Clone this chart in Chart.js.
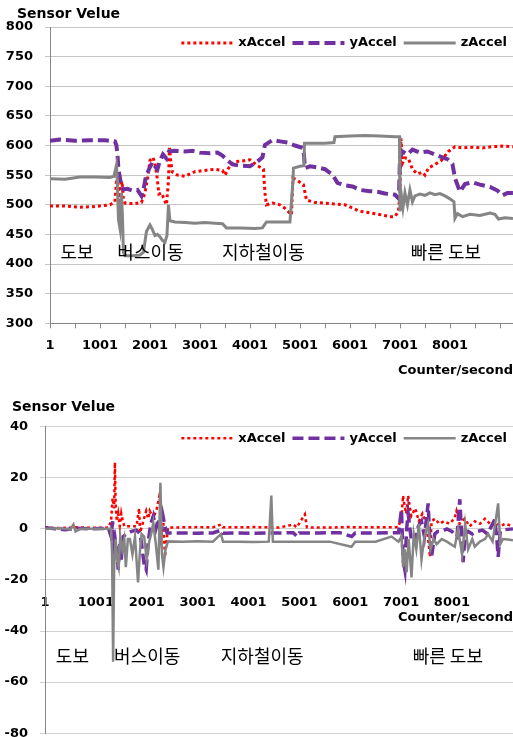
<!DOCTYPE html>
<html>
<head>
<meta charset="utf-8">
<script src="https://cdn.jsdelivr.net/npm/chart.js@4.4.1/dist/chart.umd.min.js"></script>
<style>
html, body { margin: 0; padding: 0; background: #fff; overflow: hidden; }
#wrap { position: relative; width: 513px; height: 737px; overflow: hidden; }
canvas { position: absolute; left: 0; }
</style>
</head>
<body>
<div id="wrap">
  <canvas id="rawChart" width="513" height="382" style="top:0"></canvas>
  <canvas id="diffChart" width="513" height="363" style="top:390px"></canvas>
</div>
<script>
// ---- data: [counter, value] ----
const xAccelRaw = [[1,498],[300,498],[600,496],[900,497],[1200,500],[1300,505],[1330,540],[1350,552],[1370,520],[1390,486],[1410,530],[1440,540],[1470,510],[1500,503],[1600,502],[1700,502],[1830,504],[1900,520],[1960,548],[2000,575],[2060,580],[2100,570],[2140,548],[2180,518],[2230,520],[2280,510],[2330,500],[2370,540],[2390,596],[2420,570],[2450,555],[2550,550],[2700,548],[2900,556],[3100,558],[3300,560],[3450,558],[3500,550],[3600,566],[3700,573],[3850,574],[4000,576],[4150,566],[4270,560],[4300,520],[4330,500],[4450,503],[4600,500],[4700,494],[4830,483],[4860,545],[4930,542],[5070,534],[5130,508],[5300,504],[5600,502],[5900,500],[6200,489],[6500,485],[6800,480],[6900,480],[6970,489],[7000,520],[7020,612],[7050,570],[7100,579],[7170,578],[7250,560],[7350,552],[7450,555],[7500,550],[7570,562],[7700,568],[7830,575],[7970,590],[8100,598],[8250,596],[8450,597],[8650,596],[8850,598],[9050,599],[9260,598]];
const yAccelRaw = [[1,608],[200,610],[500,608],[800,609],[1100,609],[1300,607],[1330,600],[1350,585],[1370,560],[1400,545],[1430,530],[1470,526],[1550,527],[1650,524],[1750,525],[1830,515],[1880,530],[1920,548],[1980,560],[2050,572],[2100,565],[2150,560],[2200,575],[2260,585],[2330,578],[2380,590],[2500,591],[2700,590],[2850,591],[3000,588],[3200,587],[3350,588],[3450,583],[3550,575],[3650,568],[3800,566],[4000,565],[4150,573],[4250,580],[4300,601],[4450,609],[4600,607],[4750,605],[4900,600],[5050,596],[5080,585],[5100,562],[5200,565],[5350,563],[5500,560],[5650,551],[5750,537],[5900,533],[6050,531],[6200,525],[6400,523],[6550,522],[6700,519],[6900,517],[6980,510],[7000,579],[7050,590],[7150,585],[7250,593],[7400,588],[7550,590],[7700,585],[7850,580],[7950,577],[8050,569],[8100,545],[8200,522],[8300,535],[8450,538],[8600,534],[8800,530],[8950,524],[9050,516],[9150,520],[9260,520]];
const zAccelRaw = [[1,544],[300,543],[600,547],[900,547],[1200,546],[1280,548],[1330,567],[1345,545],[1370,475],[1400,460],[1430,520],[1450,480],[1470,420],[1500,414],[1650,414],[1800,415],[1870,420],[1930,455],[2000,466],[2050,458],[2100,448],[2150,450],[2200,446],[2250,440],[2300,437],[2340,448],[2370,500],[2400,473],[2500,471],[2700,470],[2900,469],[3100,470],[3300,469],[3450,468],[3530,461],[3800,461],[4100,460],[4250,461],[4330,471],[4500,471],[4800,471],[4860,540],[4870,562],[5000,565],[5080,566],[5090,604],[5300,604],[5500,604],[5680,605],[5700,615],[6000,616],[6300,617],[6600,616],[6900,615],[6990,615],[7000,489],[7030,515],[7060,495],[7100,520],[7150,500],[7200,525],[7250,505],[7300,515],[7400,518],[7500,516],[7600,520],[7700,517],[7800,519],[7900,515],[8000,510],[8080,505],[8100,477],[8150,485],[8250,480],[8400,484],[8600,482],[8800,486],[8900,484],[8970,476],[9100,478],[9260,477]];

const xAccelDiff = [[1,0.5],[300,0.3],[600,0.6],[900,0.4],[1250,0.5],[1300,3],[1330,12],[1360,8],[1375,26],[1390,10],[1410,3],[1440,6],[1470,1],[1500,6],[1520,4],[1560,1],[1700,1],[1800,1],[1850,8],[1870,-1.5],[1920,2],[1990,7],[2030,4],[2060,7],[2130,4],[2200,8],[2250,13],[2280,5],[2330,2],[2360,-11],[2390,-5],[2420,0.5],[2700,0.6],[3000,0.7],[3300,0.6],[3460,1.7],[3500,0.6],[3800,0.6],[4100,0.7],[4400,0.6],[4600,0.5],[4880,1.7],[4950,0.6],[5110,5.7],[5150,0.6],[5600,0.5],[5960,0.7],[6300,0.6],[6700,0.6],[6950,0.7],[7010,5],[7040,13],[7070,9],[7100,6],[7140,13],[7200,5],[7280,8],[7350,3],[7420,6],[7500,2],[7570,-11],[7600,3],[7670,4],[7750,2],[7850,3],[7950,2],[8050,4],[8090,7],[8150,2],[8250,4],[8350,1],[8450,3],[8550,2],[8650,4],[8750,2],[8840,3],[8950,1],[9050,2],[9200,1]];
const yAccelDiff = [[1,0.5],[200,0],[400,-0.3],[600,0.3],[900,0],[1250,0.2],[1300,-3],[1330,3],[1350,-7],[1380,-4],[1420,-10],[1440,-16],[1470,-6],[1500,-12],[1540,-3],[1600,-2],[1700,-1],[1800,-0.5],[1870,-2],[1900,-6],[1950,-14],[1990,-16],[2030,-5],[2080,2],[2130,5],[2180,0],[2230,4],[2280,-3],[2320,5],[2360,1],[2400,-1.6],[2700,-1.6],[3000,-1.7],[3300,-1.6],[3460,-0.5],[3500,-1.7],[3800,-1.6],[4100,-1.7],[4400,-1.6],[4600,-1.6],[4880,-1.5],[4960,-3],[5000,-1.6],[5400,-1.6],[5800,-1.5],[6030,-3],[6100,-1.6],[6500,-1.6],[6800,-1.5],[6950,-1.5],[7009,7.6],[7040,-12],[7075,-16],[7110,0],[7140,6],[7200,-4],[7271,-5.5],[7340,1],[7402,3],[7460,-3],[7533,10],[7560,-2],[7599,-11],[7664,-2],[7720,-1],[7795,-1],[7900,0],[8000,-1],[8100,-3],[8155,11.6],[8190,-2],[8221,-13],[8260,-2],[8319,-1],[8400,-2],[8500,-1],[8600,-0.5],[8700,-2],[8843,3.7],[8880,-3],[8909,-11],[8950,-1],[9050,-0.3],[9200,0]];
const zAccelDiff = [[1,0],[300,0.2],[500,-0.2],[560,1.7],[600,-1],[700,0],[1000,0],[1300,0],[1320,-10],[1340,-52],[1360,-15],[1390,-4],[1420,-12],[1450,-15],[1480,-3],[1520,-8],[1560,-4],[1590,-15],[1630,-4],[1670,-4],[1720,-10],[1770,-3],[1830,-21],[1870,-8],[1900,-2],[1950,-3],[2000,-12],[2050,-5],[2100,-1],[2130,2.4],[2180,-6],[2230,-16],[2270,18],[2300,-10],[2330,-15],[2370,-8],[2420,-4.9],[2700,-5],[3000,-4.8],[3300,-5],[3460,-2],[3500,-5],[3800,-5],[4100,-5.1],[4400,-5],[4450,13],[4480,-5],[4800,-5],[5200,-5],[5600,-5],[6026,-7],[6100,-5],[6500,-5],[6812,-3],[6950,-5],[7009,-3],[7040,-15],[7075,-8],[7110,-17],[7150,-4],[7206,-19],[7250,-2],[7300,-8],[7350,2],[7402,-12],[7460,-3],[7533,2],[7580,-8],[7640,-4],[7700,-6],[7800,-4],[7900,-5],[8057,-7],[8120,0],[8200,-10],[8260,2],[8319,-8],[8400,-4],[8450,-7],[8550,-5],[8650,-4],[8712,-2],[8800,-5],[8909,10],[8950,-6],[9000,-4],[9105,-4.2],[9200,-4.5]];

const seriesNames = ['xAccel', 'yAccel', 'zAccel'];
const phaseNames = ['도보', '버스이동', '지하철이동', '빠른 도보'];
const phaseAt = [540, 2010, 4270, 7920];
const rawTicks = [1, 501, 1001, 1501, 2001, 2501, 3001, 3501, 4001, 4501, 5001, 5501, 6001, 6501, 7001, 7501, 8001, 8501, 9001];
const rawLabels = [1, 1001, 2001, 3001, 4001, 5001, 6001, 7001, 8001];
const diffTicks = [1, 1001, 2001, 3001, 4001, 5001, 6001, 7001, 8001];

const FONT = '"DejaVu Sans", sans-serif';
const pts = arr => arr.map(([x, y]) => ({ x, y }));

// legend, captions and phase names drawn on top
const overlay = {
  id: 'overlay',
  afterDraw(chart, args, o) {
    const { ctx, chartArea, scales } = chart;
    ctx.save();
    ctx.fillStyle = '#000';
    ctx.textBaseline = 'middle';

    ctx.font = 'bold 14px ' + FONT;
    ctx.textAlign = 'left';
    ctx.fillText('Sensor Velue', o.captionX, o.captionY);

    ctx.font = '18px "Noto Sans CJK KR"';
    ctx.textAlign = 'center';
    phaseNames.forEach((t, i) => {
      ctx.fillText(t, scales.x.getPixelForValue(phaseAt[i]), scales.y.getPixelForValue(o.phaseValue));
    });

    // legend, right aligned
    ctx.font = 'bold 13px ' + FONT;
    ctx.textAlign = 'left';
    const y = chartArea.top + o.legendDy;
    let pos = chartArea.right - 6;
    const sets = chart.data.datasets;
    for (let i = sets.length - 1; i >= 0; i--) {
      const ds = sets[i];
      const w = ctx.measureText(ds.label).width;
      ctx.fillText(ds.label, pos - w, y);
      const x1 = pos - w - 5, x0 = x1 - 52;
      ctx.save();
      ctx.strokeStyle = ds.borderColor;
      ctx.lineWidth = ds.borderWidth;
      ctx.setLineDash(ds.borderDash || []);
      ctx.beginPath();
      ctx.moveTo(x0, y);
      ctx.lineTo(x1, y);
      ctx.stroke();
      ctx.restore();
      pos = x0 - 7;
    }
    ctx.restore();
  }
};

function makeSets(xs, ys, zs, thin) {
  return [
    { label: seriesNames[0], data: pts(xs), borderColor: '#ff0000', borderWidth: thin ? 2.5 : 3, borderDash: [3, 3], order: 2 },
    { label: seriesNames[1], data: pts(ys), borderColor: '#7030a0', borderWidth: thin ? 3.5 : 4, borderDash: [11, 5], order: 1 },
    { label: seriesNames[2], data: pts(zs), borderColor: '#858585', borderWidth: thin ? 2.5 : 3, order: 0 }
  ];
}

const common = {
  responsive: false,
  animation: false,
  events: [],
  elements: { point: { radius: 0 }, line: { tension: 0, borderCapStyle: 'butt' } },
  plugins: { legend: { display: false }, tooltip: { enabled: false } }
};

new Chart(document.getElementById('rawChart'), {
  type: 'line',
  data: { datasets: makeSets(xAccelRaw, yAccelRaw, zAccelRaw, false) },
  plugins: [overlay],
  options: {
    ...common,
    layout: { padding: { top: 27, left: 0, right: 0, bottom: 0 } },
    plugins: { ...common.plugins, overlay: { captionX: 17, captionY: 14, phaseValue: 420, legendDy: 16 } },
    scales: {
      x: {
        type: 'linear', min: 1, max: 9261,
        afterBuildTicks: s => { s.ticks = rawTicks.map(v => ({ value: v })); },
        afterFit: s => { s.height = 58.7; },
        grid: { drawOnChartArea: false, tickLength: 5, color: '#868686' },
        border: { color: '#868686' },
        ticks: {
          autoSkip: false, maxRotation: 0, padding: 10, color: '#000',
          font: { family: FONT, size: 13, weight: 'bold' },
          callback: v => (rawLabels.includes(v) ? String(v) : '')
        },
        title: { display: true, text: 'Counter/second', align: 'end', color: '#000', font: { family: FONT, size: 13, weight: 'bold' } }
      },
      y: {
        min: 300, max: 800,
        afterFit: s => { s.width = 50; },
        ticks: { stepSize: 50, padding: 12, color: '#000', font: { family: FONT, size: 13, weight: 'bold' } },
        grid: { color: '#c4c4c4', tickLength: 5 },
        border: { color: '#868686' }
      }
    }
  }
});

new Chart(document.getElementById('diffChart'), {
  type: 'line',
  data: { datasets: makeSets(xAccelDiff, yAccelDiff, zAccelDiff, true) },
  plugins: [overlay],
  options: {
    ...common,
    layout: { padding: { top: 36.7, left: 0, right: 0, bottom: 0 } },
    plugins: { ...common.plugins, overlay: { captionX: 12, captionY: 17, phaseValue: -50, legendDy: 11.5 } },
    scales: {
      x: {
        type: 'linear', min: 1, max: 9201,
        position: { y: -20 },
        afterBuildTicks: s => { s.ticks = diffTicks.map(v => ({ value: v })); },
        afterFit: s => { s.height = 49; },
        grid: { drawOnChartArea: false, tickLength: 8, tickColor: 'rgba(0,0,0,0)' },
        border: { display: false },
        ticks: {
          autoSkip: false, maxRotation: 0, padding: 7, color: '#000',
          font: { family: FONT, size: 13, weight: 'bold' },
          callback: v => String(v)
        },
        title: { display: true, text: 'Counter/second', align: 'end', color: '#000', font: { family: FONT, size: 13, weight: 'bold' } }
      },
      y: {
        min: -80, max: 40,
        afterFit: s => { s.width = 45; },
        ticks: { stepSize: 20, padding: 12, color: '#000', font: { family: FONT, size: 13, weight: 'bold' } },
        grid: { color: '#d0d0d0', tickLength: 5 },
        border: { color: '#868686' }
      }
    }
  }
});
</script>
</body>
</html>
